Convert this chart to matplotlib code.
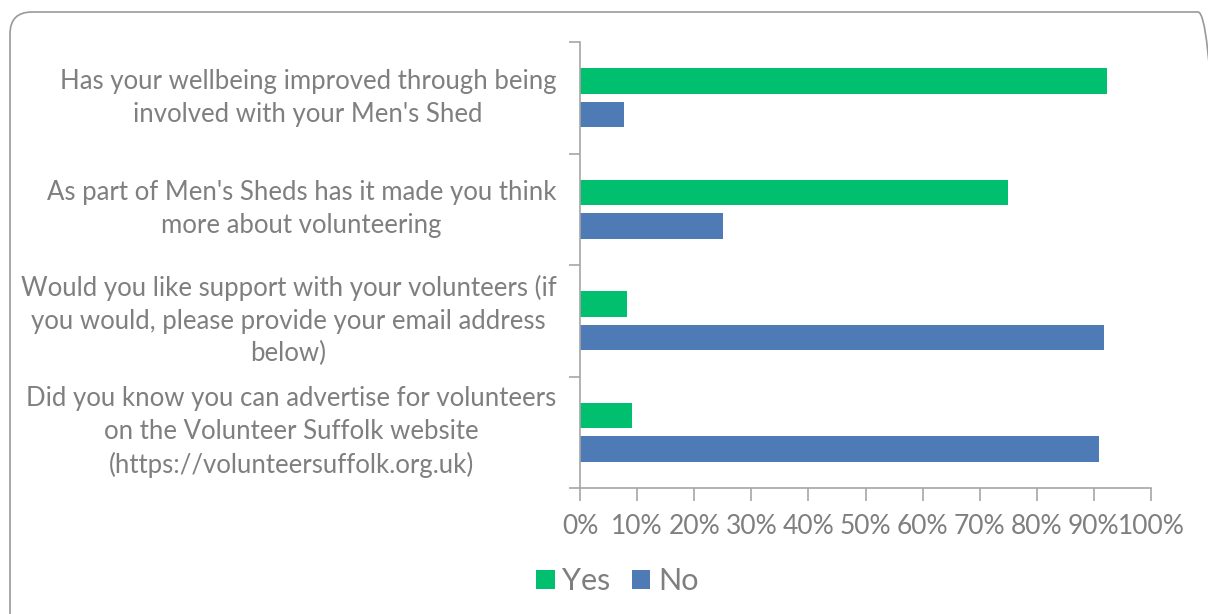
import numpy as np
import matplotlib.pyplot as plt
from matplotlib.patches import FancyBboxPatch
from matplotlib.transforms import IdentityTransform

questions = [
    "Has your wellbeing improved through being\ninvolved with your Men's Shed",
    "As part of Men's Sheds has it made you think\nmore about volunteering",
    "Would you like support with your volunteers (if\nyou would, please provide your email address\nbelow)",
    "Did you know you can advertise for volunteers\non the Volunteer Suffolk website\n(https://volunteersuffolk.org.uk)",
]
yes = [92.3, 75.0, 8.3, 9.1]
no = [7.7, 25.0, 91.7, 90.9]
ticks = [0, 10, 20, 30, 40, 50, 60, 70, 80, 90, 100]

green = '#00BF6F'
blue = '#4E7AB5'
grey = '#7F7F7F'
axis_grey = '#A6A6A6'

plt.rcParams['font.family'] = ['Lato', 'DejaVu Sans']

fig = plt.figure(figsize=(12.08, 6.14), dpi=100)
ax = fig.add_axes([580 / 1208, 1 - 488 / 614, 571 / 1208, 446 / 614])

# first category at the top
y = np.arange(len(questions))[::-1]
h = 0.225
ax.barh(y + 0.15, yes, height=h, color=green, label='Yes')
ax.barh(y - 0.15, no, height=h, color=blue, label='No')

ax.set_xlim(0, 100)
ax.set_ylim(-0.5, len(questions) - 0.5)
ax.set_xticks(ticks)
ax.set_xticklabels([f'{t}%' for t in ticks], fontsize=19, color=grey)
ax.set_yticks(y)
ax.set_yticklabels(questions, fontsize=18.5, color=grey, multialignment='center',
                   linespacing=1.38, va='center')
ax.set_yticks(np.arange(-0.5, len(questions)), minor=True)
ax.tick_params(axis='y', which='major', length=0, pad=17)
ax.tick_params(axis='y', which='minor', length=8, color=axis_grey, width=1.2)
ax.tick_params(axis='x', length=9, color=axis_grey, width=1.2, pad=10)

for s in ['top', 'right']:
    ax.spines[s].set_visible(False)
for s in ['left', 'bottom']:
    ax.spines[s].set_color(axis_grey)
    ax.spines[s].set_linewidth(1.2)

leg = fig.legend(loc='center', bbox_to_anchor=(0.511, 1 - 581 / 614), ncol=2,
                 frameon=False, fontsize=22, handlelength=0.6, handleheight=0.6,
                 handletextpad=0.25, columnspacing=0.7)
for t in leg.get_texts():
    t.set_color(grey)

# rounded chart-area border, in pixels (runs off the right and bottom edges)
border = FancyBboxPatch((10, -20), 1210, 622,
                        boxstyle='round,pad=0,rounding_size=22',
                        transform=IdentityTransform(), fill=False,
                        edgecolor='#999999', linewidth=1.2)
fig.patches.append(border)

fig.savefig('out.png', dpi=100)
